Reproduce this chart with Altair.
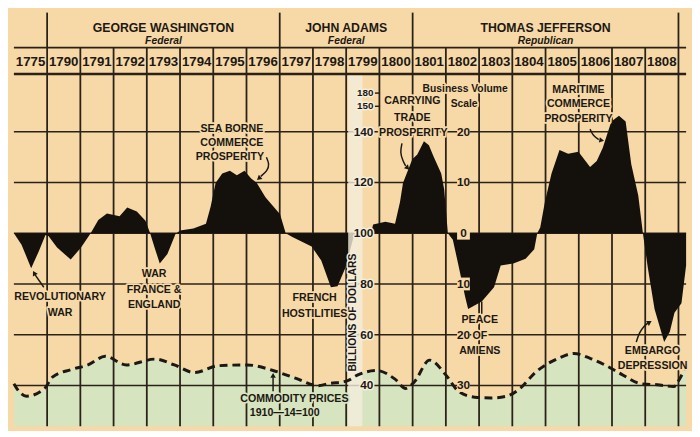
import altair as alt
import pandas as pd

W, H = 684, 421
XMAX = 20.23
YMIN, YMAX = 23.9, 186.9
BG = "#f6d9a7"
GREEN = "#d6e4bf"
CREASE = "#f4eedc"
INK = "#1d1813"
GRID = "#2a2219"
FONT = "'Liberation Sans', Arial, sans-serif"

# ---- data ----
years = ["1775", "1790", "1791", "1792", "1793", "1794", "1795", "1796", "1797", "1798",
         "1799", "1800", "1801", "1802", "1803", "1804", "1805", "1806", "1807", "1808"]
presidents = ["GEORGE WASHINGTON", "JOHN ADAMS", "THOMAS JEFFERSON"]
parties = ["Federal", "Federal", "Republican"]
term_start = [1, 8, 12]
term_end = [8, 12, 20]

# business activity (column units, billions-of-dollars scale, 100 = normal)
biz_x = [0, 0.23, 0.52, 0.75, 0.95, 1.04, 1.30, 1.71, 2.02, 2.31, 2.54, 2.80, 3.18, 3.41, 3.70,
         3.96, 4.10, 4.25, 4.39, 4.62, 4.86, 5.00, 5.40, 5.78, 5.92, 6.07, 6.27, 6.50, 6.71, 6.94,
         7.14, 7.31, 7.57, 8.01, 8.18, 8.38, 8.96, 9.25, 9.54, 9.74, 9.97, 10.20, 10.29, 10.75,
         10.81, 11.18, 11.47, 11.62, 11.71, 11.99, 12.14, 12.34, 12.49, 12.63, 12.86, 12.95, 13.06,
         13.21, 13.38, 13.58, 13.67, 14.08, 14.45, 14.65, 15.03, 15.40, 15.66, 15.75, 15.84, 15.98,
         16.18, 16.42, 16.68, 16.99, 17.34, 17.54, 17.72, 17.98, 18.21, 18.41, 18.58, 18.79, 18.93,
         19.08, 19.28, 19.57, 19.74, 19.88, 20.09, 20.23]
biz_v = [100, 95.5, 86.2, 92.9, 99.3, 98.9, 94.4, 89.6, 94.4, 100, 105.2, 107.8, 106.7, 110.1, 108.6,
         104.9, 100, 93.7, 88.1, 91.8, 99.6, 101.1, 101.9, 103.7, 110.4, 119.8, 123.5, 124.6, 122.8, 124.6,
         121.6, 119.8, 114.2, 107.5, 100, 98.5, 94.8, 89.2, 78.7, 79.1, 86.2, 97.4, 100, 100,
         103.4, 104.5, 103.7, 112.3, 119.8, 129.1, 131, 136.2, 134.7, 130.2, 123.5, 117.2, 100,
         97.4, 87.3, 75, 70.1, 73.1, 78.7, 87.3, 88.1, 89.9, 93.7, 100, 102.2, 112.3,
         123.5, 132.8, 131.3, 132.1, 126.1, 128.4, 133.6, 144, 146.3, 144, 127.2, 114.9, 100,
         86.2, 70.1, 57.1, 61.2, 68.7, 72.4, 87.3]

# commodity prices (drawn on the same vertical scale)
cp_x = [0, 0.09, 0.38, 0.92, 1.16, 1.73, 2.23, 2.75, 3.38, 4.25, 4.83, 5.43, 6.16, 7.02, 7.80,
        8.47, 9.16, 9.45, 10.03, 10.32, 10.92, 11.47, 11.79, 12.05, 12.51, 13.01, 13.38, 13.87,
        14.36, 14.83, 15.23, 15.69, 16.39, 16.85, 17.34, 17.83, 18.29, 18.87, 19.36, 19.86, 20.03, 20.23]
cp_v = [40.7, 38.8, 35.8, 38.8, 43.3, 46.3, 48.1, 51.5, 48.1, 50.4, 48.1, 45.1, 47.8, 48.1, 45.9,
        42.9, 39.9, 40.7, 41.8, 44.0, 45.9, 42.5, 38.8, 41.4, 50.0, 44.0, 37.7, 35.4,
        35.1, 35.8, 38.8, 45.1, 50.7, 52.6, 50.7, 47.8, 44.4, 40.7, 40.3, 39.6, 42.5, 47.8]

grid_v = [140, 120, 100, 80, 60, 40]
left_tick_v = [155.2, 150, 140, 120, 100, 80, 60, 40]
left_tick_text = ["180", "150", "140", "120", "100", "80", "60", "40"]
left_tick_size = [10, 10, 12, 12, 12, 12, 12, 12]
right_tick_v = [140, 120, 100, 80, 60, 40]
right_tick_text = ["20", "10", "0", "10", "20", "30"]

ann_text = ["REVOLUTIONARY", "WAR", "WAR", "FRANCE &", "ENGLAND", "SEA BORNE", "COMMERCE", "PROSPERITY",
            "FRENCH", "HOSTILITIES", "CARRYING", "TRADE", "PROSPERITY", "PEACE", "OF", "AMIENS",
            "MARITIME", "COMMERCE", "PROSPERITY", "EMBARGO", "DEPRESSION", "COMMODITY PRICES", "1910\u201414=100"]
ann_c = [1.39, 1.39, 4.22, 4.22, 4.22, 6.56, 6.56, 6.50, 9.05, 9.05, 11.99, 11.99, 12.02, 14.02, 14.02, 14.02,
         16.99, 16.99, 16.99, 19.22, 19.22, 8.44, 8.15]
ann_v = [75.0, 68.7, 84.0, 77.6, 71.6, 141.0, 135.4, 129.9, 74.3, 68.3, 151.9, 145.5, 139.6, 65.7, 59.3, 53.7,
         156.3, 150.7, 144.8, 53.7, 47.8, 34.7, 29.1]
ann_halo = [BG] * 21 + [GREEN, GREEN]

arrow_id = [1, 1, 2, 2, 2, 2, 3, 3, 3, 3, 4, 4, 5, 5, 5, 6, 6, 6, 6, 7, 7]
arrow_c = [0.90, 0.64, 7.60, 7.69, 7.63, 7.43, 11.68, 11.62, 11.71, 11.79, 14.08, 14.08,
           17.34, 17.43, 17.60, 18.73, 18.82, 18.96, 19.08, 7.80, 7.80]
arrow_v = [78.7, 83.6, 129.9, 127.2, 124.6, 122.4, 135.4, 131.7, 128.4, 126.5, 68.3, 73.1,
           141.0, 138.4, 136.9, 57.1, 60.8, 63.4, 64.6, 37.7, 43.3]
head_c = [0.61, 7.37, 11.85, 17.69, 19.13, 7.80]
head_v = [84.3, 121.6, 125.7, 136.6, 64.9, 44.0]
head_angle = [331, 230, 135, 100, 60, 0]

crease_c = [10.06, 10.49]

# ---- helpers ----
xs = alt.Scale(domain=[0, XMAX], nice=False, zero=False)
ys = alt.Scale(domain=[YMIN, YMAX], nice=False, zero=False)


def X(f):
    return alt.X(f, type="quantitative", scale=xs, axis=None)


def Y(f):
    return alt.Y(f, type="quantitative", scale=ys, axis=None)


def text_pair(df, halo_field=None, halo_color=BG, halo_w=3.5, enc=None, **mk):
    """A text layer on top of a halo layer that masks the grid behind the glyphs."""
    enc = enc or {}
    base = alt.Chart(df)
    if halo_field:
        h = base.mark_text(strokeWidth=halo_w, strokeJoin="round", **mk).encode(
            fill=alt.Fill(f"{halo_field}:N", scale=None), stroke=alt.Stroke(f"{halo_field}:N", scale=None), **enc)
    else:
        h = base.mark_text(fill=halo_color, stroke=halo_color, strokeWidth=halo_w, strokeJoin="round", **mk).encode(**enc)
    t = base.mark_text(color=INK, **mk).encode(**enc)
    return [h, t]


biz = pd.DataFrame({"c": biz_x, "v": biz_v, "b": 100.0})
cp = pd.DataFrame({"c": cp_x, "v": cp_v, "b": YMIN})

green = alt.Chart(cp).mark_area(color=GREEN, interpolate="monotone").encode(
    x=X("c"), y=Y("v"), y2=alt.Y2("b"))

hgrid = pd.DataFrame({"v": grid_v + [173.1, 162.7], "c0": 0.0, "c1": XMAX,
                      "w": [1.5] * len(grid_v) + [1.6, 2.6]})
hlines = alt.Chart(hgrid).mark_rule(color=GRID).encode(
    x=X("c0"), x2=alt.X2("c1"), y=Y("v"), strokeWidth=alt.StrokeWidth("w:Q", scale=None))

vgrid = pd.DataFrame({"c": list(range(1, 21)), "v0": YMIN, "v1": 173.1})
vlines = alt.Chart(vgrid).mark_rule(color=GRID, strokeWidth=1.8).encode(
    x=X("c"), y=Y("v0"), y2=alt.Y2("v1"))

pdiv = pd.DataFrame({"c": term_start + [term_end[-1]], "v0": 173.1, "v1": YMAX})
plines = alt.Chart(pdiv).mark_rule(color=GRID, strokeWidth=1.8).encode(
    x=X("c"), y=Y("v0"), y2=alt.Y2("v1"))

black = alt.Chart(biz).mark_area(color="#14110d").encode(
    x=X("c"), y=Y("v"), y2=alt.Y2("b"))

crease = alt.Chart(pd.DataFrame({"c0": [crease_c[0]], "c1": [crease_c[1]], "v0": [YMIN], "v1": [162.0]})).mark_rect(
    color=CREASE, opacity=0.8).encode(x=X("c0"), x2=alt.X2("c1"), y=Y("v0"), y2=alt.Y2("v1"))

dashed = alt.Chart(cp).mark_line(color=INK, strokeWidth=3, strokeDash=[8, 5], interpolate="monotone").encode(
    x=X("c"), y=Y("v"))

ydf = pd.DataFrame({"t": years, "c": [i + 0.5 for i in range(len(years))], "v": 167.6})
year_text = alt.Chart(ydf).mark_text(font=FONT, fontWeight="bold", fontSize=13.5, color=INK,
                                     baseline="middle").encode(x=X("c"), y=Y("v"), text="t:N")

pres = pd.DataFrame({"n": presidents, "p": parties,
                     "c": [(a + b) / 2 for a, b in zip(term_start, term_end)], "v1": 180.9, "v2": 175.6})
pres_text = alt.Chart(pres).mark_text(font=FONT, fontWeight="bold", fontSize=12.5, color=INK,
                                      baseline="middle").encode(x=X("c"), y=Y("v1"), text="n:N")
party_text = alt.Chart(pres).mark_text(font=FONT, fontWeight="bold", fontStyle="italic", fontSize=10.5, color=INK,
                                       baseline="middle").encode(x=X("c"), y=Y("v2"), text="p:N")

ldf = pd.DataFrame({"t": left_tick_text, "v": left_tick_v, "c": 10.82, "c0": 10.86, "c1": 11.02,
                    "s": left_tick_size})
left_layers = text_pair(ldf, halo_color=CREASE, halo_w=3,
                        enc=dict(x=X("c"), y=Y("v"), text="t:N", size=alt.Size("s:Q", scale=None)),
                        font=FONT, fontWeight="bold", align="right", baseline="middle")
left_ticks = alt.Chart(ldf.iloc[:2]).mark_rule(color=GRID, strokeWidth=1.5).encode(
    x=X("c0"), x2=alt.X2("c1"), y=Y("v"))

rdf = pd.DataFrame({"t": right_tick_text, "v": right_tick_v, "c": 13.53})
right_box = alt.Chart(rdf).mark_square(color=BG, opacity=1, size=170).encode(x=X("c"), y=Y("v"))
right_text = alt.Chart(rdf).mark_text(font=FONT, fontWeight="bold", fontSize=12, color=INK,
                                      baseline="middle").encode(x=X("c"), y=Y("v"), text="t:N")

bv = pd.DataFrame({"t": ["Business Volume", "Scale"], "c": [13.58, 13.55], "v": [156.7, 150.7]})
bv_layers = text_pair(bv, enc=dict(x=X("c"), y=Y("v"), text="t:N"),
                      font=FONT, fontWeight="bold", fontSize=10.5, baseline="middle")

bil = pd.DataFrame({"t": ["BILLIONS OF DOLLARS"], "c": [10.2], "v": [68.7]})
bil_layers = text_pair(bil, halo_color=CREASE, halo_w=3, enc=dict(x=X("c"), y=Y("v"), text="t:N"),
                       font=FONT, fontWeight="bold", fontSize=10.5, angle=270, baseline="middle")

adf = pd.DataFrame({"t": ann_text, "c": ann_c, "v": ann_v, "h": ann_halo})
ann_layers = text_pair(adf, halo_field="h", enc=dict(x=X("c"), y=Y("v"), text="t:N"),
                       font=FONT, fontWeight="bold", fontSize=10.8, baseline="middle")

ar = pd.DataFrame({"id": arrow_id, "c": arrow_c, "v": arrow_v, "i": list(range(len(arrow_id)))})
arrows = alt.Chart(ar).mark_line(color=INK, strokeWidth=1.5, interpolate="basis").encode(
    x=X("c"), y=Y("v"), detail="id:N", order="i:Q")
hd = pd.DataFrame({"c": head_c, "v": head_v, "a": head_angle})
heads = alt.Chart(hd).mark_point(shape="triangle-up", filled=True, size=32, color=INK, opacity=1).encode(
    x=X("c"), y=Y("v"), angle=alt.Angle("a:Q", scale=None))

chart = alt.layer(
    green, hlines, vlines, plines, black, crease, dashed, right_box,
    year_text, pres_text, party_text, left_ticks, *left_layers, right_text, *bv_layers, *bil_layers,
    *ann_layers, arrows, heads
).properties(width=W, height=H, padding=0, background=BG).configure_view(stroke=None)

chart.save("out.html", embed_options={"renderer": "svg", "actions": False})
